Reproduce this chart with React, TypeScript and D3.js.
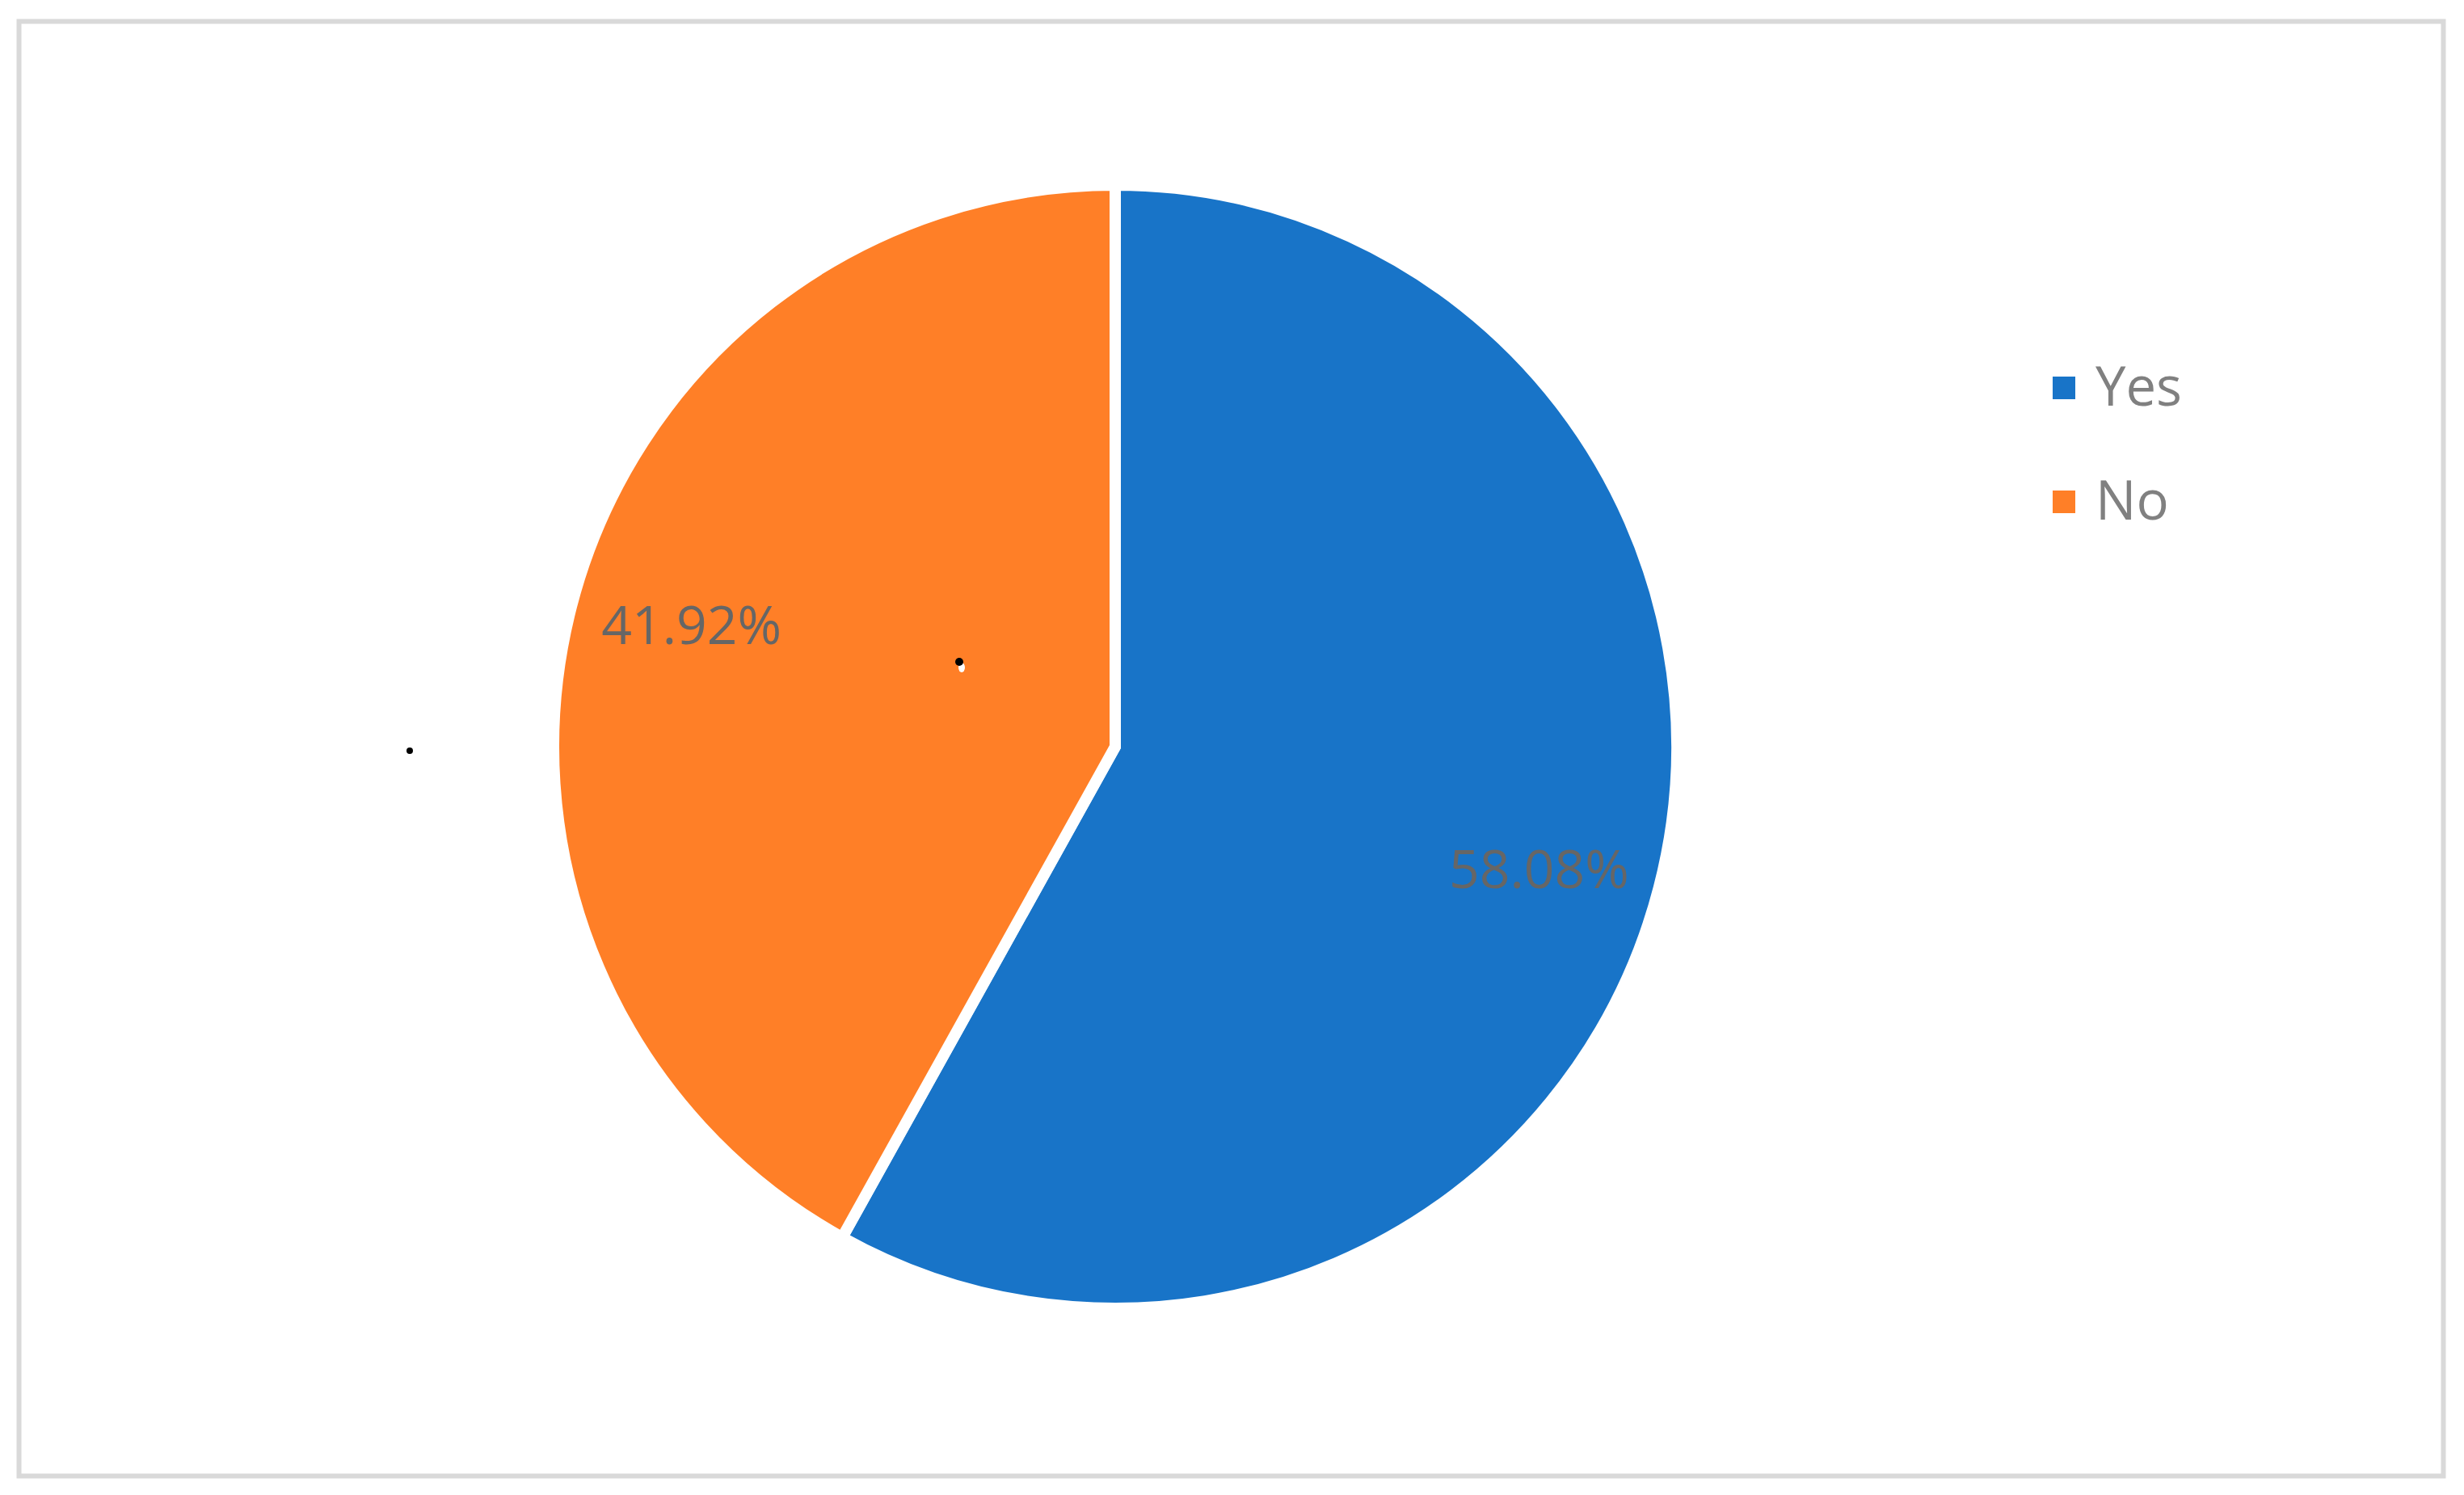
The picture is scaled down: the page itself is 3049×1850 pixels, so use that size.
import React from 'react';
import * as d3 from 'd3';

// Chart data
const categories = ['Yes', 'No'];
const values = [58.08, 41.92];
const colors = ['#1874C8', '#FF7F27'];

const width = 3049;
const height = 1850;
const cx = 1380;
const cy = 924;
const radius = 695;

const App = () => {
  const pie = d3
    .pie<number>()
    .sort(null)
    .value((d) => d);
  const arcs = pie(values);

  const arc = d3.arc<d3.PieArcDatum<number>>().innerRadius(0).outerRadius(radius);
  // labels sit at about 79% of the radius, nudged a little clockwise like Excel does
  const labelArc = d3
    .arc<d3.PieArcDatum<number>>()
    .innerRadius(radius * 0.785)
    .outerRadius(radius * 0.785);
  const nudge = 0.026;

  const total = d3.sum(values);
  const fmt = d3.format('.2%');

  return (
    <svg
      width={width}
      height={height}
      style={{ position: 'absolute', left: 0, top: 0, fontFamily: '"Open Sans", "Noto Sans", sans-serif' }}
    >
      <rect x={0} y={0} width={width} height={height} fill="#ffffff" />
      {/* chart border */}
      <rect x={23.5} y={26.5} width={3000} height={1800} fill="none" stroke="#d9d9d9" strokeWidth={6} />

      <g transform={`translate(${cx},${cy})`}>
        {arcs.map((a, i) => (
          <path key={categories[i]} d={arc(a) || ''} fill={colors[i]} stroke="#ffffff" strokeWidth={14} strokeLinejoin="miter" />
        ))}
        {arcs.map((a, i) => {
          const [x, y] = labelArc.centroid({ ...a, startAngle: a.startAngle + nudge, endAngle: a.endAngle + nudge });
          return (
            <text key={'lbl' + i} x={x} y={y + 24} textAnchor="middle" fontSize={66} fill="#666666">
              {fmt(a.data / total)}
            </text>
          );
        })}
      </g>

      {/* stray marks seen in the original */}
      <circle cx={507} cy={929} r={4} fill="#000000" />
      <ellipse cx={1190} cy={826} rx={4} ry={6} fill="#ffffff" />
      <circle cx={1187} cy={819} r={5} fill="#000000" />

      {/* legend */}
      <g transform="translate(2540,466)">
        {categories.map((c, i) => (
          <g key={c} transform={`translate(0,${i * 141})`}>
            <rect x={0} y={0} width={28} height={28} fill={colors[i]} />
            <text x={53} y={36} fontSize={67} fill="#808080">
              {c}
            </text>
          </g>
        ))}
      </g>
    </svg>
  );
};

export default App;
